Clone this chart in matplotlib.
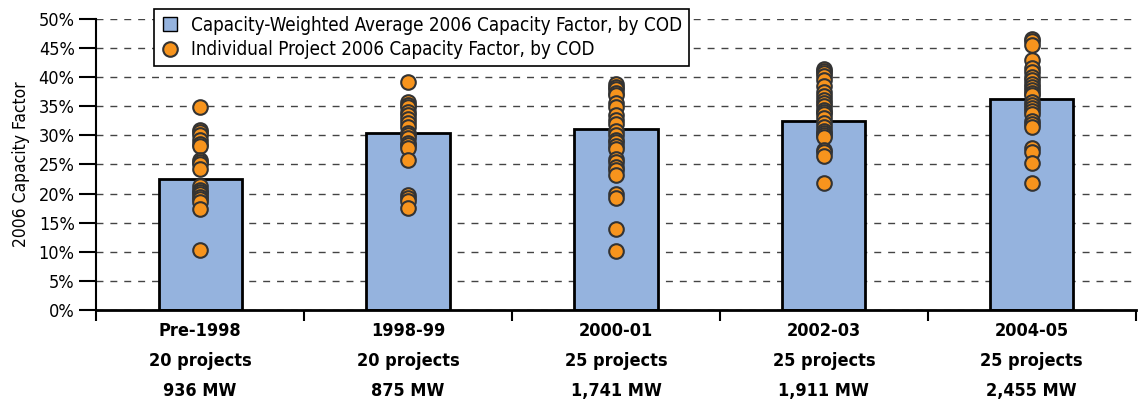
import numpy as np
import matplotlib.pyplot as plt

plt.rcParams['font.family'] = ['DejaVu Sans']
plt.rcParams['font.stretch'] = 'condensed'

# period of commercial operation (COD)
periods = ["Pre-1998", "1998-99", "2000-01", "2002-03", "2004-05"]
n_projects = ["20 projects", "20 projects", "25 projects", "25 projects", "25 projects"]
capacity = ["936 MW", "875 MW", "1,741 MW", "1,911 MW", "2,455 MW"]

# capacity-weighted average 2006 capacity factor (%)
weighted_avg = [22.5, 30.4, 31.1, 32.5, 36.2]

# individual project 2006 capacity factors (%)
pre1998 = [34.8, 30.9, 30.5, 30.1, 29.2, 28.5, 28.1, 25.8, 25.5, 25.1, 24.2,
           21.3, 20.6, 20.3, 20.0, 19.4, 19.0, 18.6, 17.4, 10.3]
y1998_99 = [39.2, 35.8, 35.3, 34.9, 34.1, 33.5, 32.9, 32.1, 31.5, 30.4,
            30.0, 29.6, 28.7, 28.3, 27.9, 25.7, 19.8, 19.3, 18.8, 17.6]
y2000_01 = [38.8, 38.3, 37.9, 37.3, 36.9, 35.5, 34.8, 33.5, 32.6, 32.0,
            30.8, 30.0, 29.2, 28.8, 28.2, 27.6, 26.0, 25.5, 24.5, 24.0,
            23.2, 20.0, 19.3, 13.9, 10.1]
y2002_03 = [41.4, 41.0, 40.7, 40.2, 39.5, 38.5, 37.5, 36.7, 36.0, 35.5,
            35.1, 34.4, 34.0, 33.6, 33.0, 32.1, 31.5, 30.8, 30.4, 30.0,
            29.8, 27.5, 27.2, 26.5, 21.8]
y2004_05 = [46.6, 46.2, 45.5, 42.9, 41.5, 40.9, 40.1, 39.5, 38.9, 38.3,
            37.8, 37.3, 36.9, 35.8, 35.3, 34.7, 34.2, 33.6, 32.4, 32.0,
            31.4, 27.8, 27.2, 25.3, 21.9]
projects = [pre1998, y1998_99, y2000_01, y2002_03, y2004_05]

fig = plt.figure(figsize=(11.38, 4.04), dpi=100)
ax = fig.add_axes([0.0845, 0.2327, 0.9135, 0.7203])

x = np.arange(len(periods))
ax.bar(x, weighted_avg, width=0.4, color='#95b3de', edgecolor='black',
       linewidth=2, zorder=2)
dots = None
for i, vals in enumerate(projects):
    line, = ax.plot([x[i]] * len(vals), vals, 'o', color='#f7941d', markersize=10.5,
                    markeredgecolor='#333333', markeredgewidth=1.5, zorder=3)
    if dots is None:
        dots = line

ax.set_xlim(-0.5, 4.5)
ax.set_ylim(0, 50)
ax.set_yticks(np.arange(0, 51, 5))
ax.set_yticklabels([f"{v}%" for v in range(0, 51, 5)], fontsize=13)
ax.yaxis.grid(True, linestyle=(0, (5, 5)), color='#444444', linewidth=1)
ax.set_axisbelow(True)
ax.set_ylabel("2006 Capacity Factor", fontsize=12.5, labelpad=6)

ax.set_xticks(np.arange(-0.5, 5, 1))
ax.set_xticklabels([])
ax.set_xticks(x, minor=True)
ax.set_xticklabels([f"{p}\n{n}\n{c}" for p, n, c in zip(periods, n_projects, capacity)],
                   minor=True, fontsize=13, fontweight='bold', linespacing=1.85)
ax.tick_params(axis='x', which='major', direction='out', length=8, width=1.5)
ax.tick_params(axis='x', which='minor', length=0, pad=9)
ax.tick_params(axis='y', direction='out', length=12, width=1.5)

for s in ['top', 'right']:
    ax.spines[s].set_visible(False)
ax.spines['left'].set_linewidth(1.5)
ax.spines['bottom'].set_linewidth(2)

sq = plt.Line2D([], [], marker='s', linestyle='none', markersize=10,
                markerfacecolor='#95b3de', markeredgecolor='black', markeredgewidth=1)
leg = ax.legend([sq, dots],
                ['Capacity-Weighted Average 2006 Capacity Factor, by COD',
                 'Individual Project 2006 Capacity Factor, by COD'],
                loc='upper left', bbox_to_anchor=(0.056, 1.034), borderaxespad=0,
                fontsize=13.5, frameon=True, fancybox=False, edgecolor='black',
                framealpha=1, handlelength=1.0, borderpad=0.35,
                labelspacing=0.3, handletextpad=0.6)
leg.get_frame().set_linewidth(1.2)
leg.set_zorder(5)

fig.savefig('out.png', dpi=100)
